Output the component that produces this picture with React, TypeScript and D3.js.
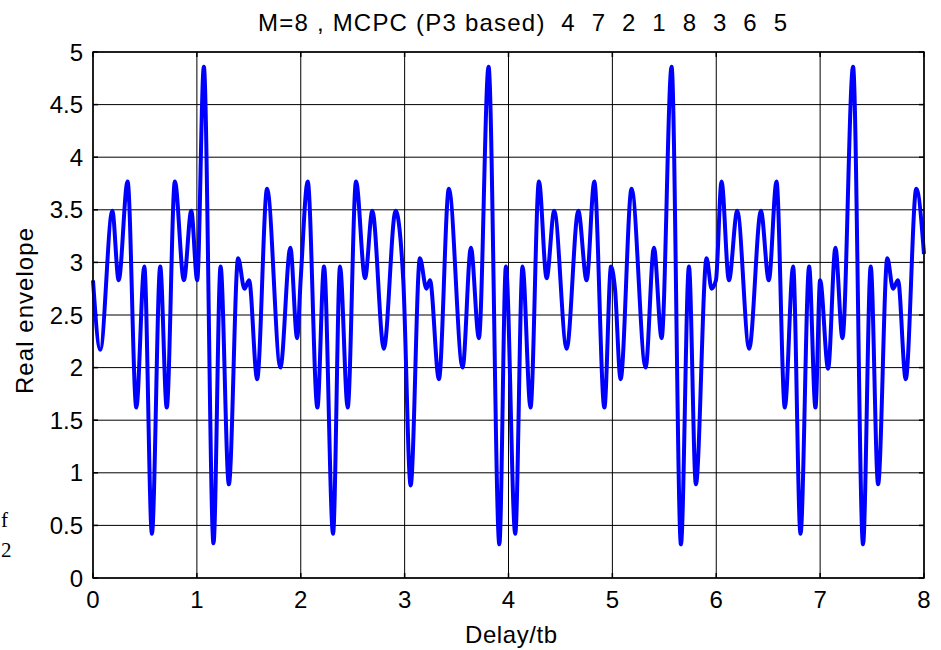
import React from "react";
import * as d3 from "d3";

const titleText = "M=8 , MCPC (P3 based)  4  7  2  1  8  3  6  5";
const xLabel = "Delay/tb";
const yLabel = "Real envelope";
const xTicks = [0, 1, 2, 3, 4, 5, 6, 7, 8];
const yTicks = [0, 0.5, 1, 1.5, 2, 2.5, 3, 3.5, 4, 4.5, 5];
const yTickLabels = ["0", "0.5", "1", "1.5", "2", "2.5", "3", "3.5", "4", "4.5", "5"];

const delay = [
  0.0, 0.07, 0.186, 0.247, 0.333, 0.417, 0.494, 0.567, 0.647, 0.71, 0.788, 0.875, 0.946, 1.003,
  1.067, 1.16, 1.228, 1.308, 1.397, 1.458, 1.503, 1.58, 1.676, 1.804, 1.9, 1.965, 2.0,
  2.067, 2.16, 2.224, 2.311, 2.378, 2.452, 2.532, 2.619, 2.689, 2.8, 2.913, 2.987,
  3.058, 3.147, 3.21, 3.244, 3.33, 3.426, 3.558, 3.638, 3.715, 3.808, 3.912, 3.975,
  4.065, 4.135, 4.212, 4.293, 4.367, 4.44, 4.56, 4.672, 4.752, 4.826, 4.923, 4.987,
  5.025, 5.079, 5.185, 5.32, 5.4, 5.474, 5.57, 5.66, 5.737, 5.804, 5.907, 5.955, 5.997,
  6.051, 6.122, 6.202, 6.317, 6.43, 6.506, 6.58, 6.66, 6.74, 6.811, 6.894, 6.955, 7.0,
  7.077, 7.147, 7.215, 7.317, 7.413, 7.487, 7.558, 7.647, 7.702, 7.75, 7.824, 7.926, 8.0,
];
const envelope = [
  2.83, 2.17, 3.49, 2.83, 3.77, 1.62, 2.96, 0.42, 2.96, 1.62, 3.77, 2.83, 3.49, 2.83,
  4.86, 0.33, 2.96, 0.89, 3.04, 2.75, 2.83, 1.89, 3.7, 2.0, 3.14, 2.28, 2.85,
  3.77, 1.62, 2.96, 0.42, 2.96, 1.62, 3.77, 2.85, 3.49, 2.18, 3.49, 2.83,
  0.88, 3.04, 2.75, 2.83, 1.89, 3.7, 2.0, 3.14, 2.28, 4.86, 0.32, 2.96,
  0.42, 2.96, 1.62, 3.77, 2.85, 3.49, 2.18, 3.49, 2.83, 3.77, 1.62, 2.96,
  2.75, 1.89, 3.7, 2.0, 3.14, 2.28, 4.86, 0.32, 2.96, 0.89, 3.04, 2.75, 2.83,
  3.77, 2.83, 3.49, 2.18, 3.49, 2.83, 3.77, 1.62, 2.96, 0.42, 2.96, 1.62, 2.83,
  1.99, 3.14, 2.28, 4.86, 0.32, 2.96, 0.89, 3.04, 2.75, 2.83, 1.89, 3.7, 3.08,
];

export default function App() {
  const W = 941, H = 650;
  const left = 93, right = 924, top = 52, bottom = 578;
  const x = d3.scaleLinear().domain([0, 8]).range([left, right]);
  const y = d3.scaleLinear().domain([0, 5]).range([bottom, top]);
  const pts: [number, number][] = delay.map((d, i) => [d, envelope[i]]);
  const line = d3
    .line<[number, number]>()
    .x((d) => x(d[0]))
    .y((d) => y(d[1]))
    .curve(d3.curveMonotoneX);
  const font = "'Liberation Sans', Arial, sans-serif";
  const serif = "'Liberation Serif', 'Times New Roman', serif";
  const tl = 5;
  const fs = 24;
  return (
    <svg
      width={W}
      height={H}
      style={{ position: "absolute", left: 0, top: 0, background: "#fff" }}
    >
      <rect x={0} y={0} width={W} height={H} fill="#fff" />
      {xTicks.map((t) => (
        <line key={"gx" + t} x1={x(t)} x2={x(t)} y1={top} y2={bottom} stroke="#000" strokeWidth={1} />
      ))}
      {yTicks.map((t) => (
        <line key={"gy" + t} x1={left} x2={right} y1={y(t)} y2={y(t)} stroke="#000" strokeWidth={1} />
      ))}
      {xTicks.map((t) => (
        <g key={"tx" + t}>
          <line x1={x(t)} x2={x(t)} y1={bottom} y2={bottom - tl} stroke="#000" strokeWidth={1.5} />
          <line x1={x(t)} x2={x(t)} y1={top} y2={top + tl} stroke="#000" strokeWidth={1.5} />
          <text x={x(t)} y={608} textAnchor="middle" fontFamily={font} fontSize={fs} fill="#000">
            {t}
          </text>
        </g>
      ))}
      {yTicks.map((t, i) => (
        <g key={"ty" + t}>
          <line x1={left} x2={left + tl} y1={y(t)} y2={y(t)} stroke="#000" strokeWidth={1.5} />
          <line x1={right} x2={right - tl} y1={y(t)} y2={y(t)} stroke="#000" strokeWidth={1.5} />
          <text x={83} y={y(t) + 8.5} textAnchor="end" fontFamily={font} fontSize={fs} fill="#000">
            {yTickLabels[i]}
          </text>
        </g>
      ))}
      <path d={line(pts) || ""} fill="none" stroke="#0000ff" strokeWidth={4} strokeLinejoin="round" />
      <rect x={left} y={top} width={right - left} height={bottom - top} fill="none" stroke="#000" strokeWidth={1.5} />
      <text
        x={258}
        y={31}
        fontFamily={font}
        fontSize={fs}
        fill="#000"
        textLength={529}
        lengthAdjust="spacing"
        style={{ whiteSpace: "pre" }}
      >
        {titleText}
      </text>
      <text x={465} y={643} fontFamily={font} fontSize={fs} fill="#000" textLength={92} lengthAdjust="spacing">
        {xLabel}
      </text>
      <text
        transform={`translate(33, 394) rotate(-90)`}
        fontFamily={font}
        fontSize={fs}
        fill="#000"
        textLength={166}
        lengthAdjust="spacing"
      >
        {yLabel}
      </text>
      <text x={1} y={527} fontFamily={serif} fontSize={21} fill="#000">
        f
      </text>
      <text x={1} y={557} fontFamily={serif} fontSize={21} fill="#000">
        2
      </text>
    </svg>
  );
}
